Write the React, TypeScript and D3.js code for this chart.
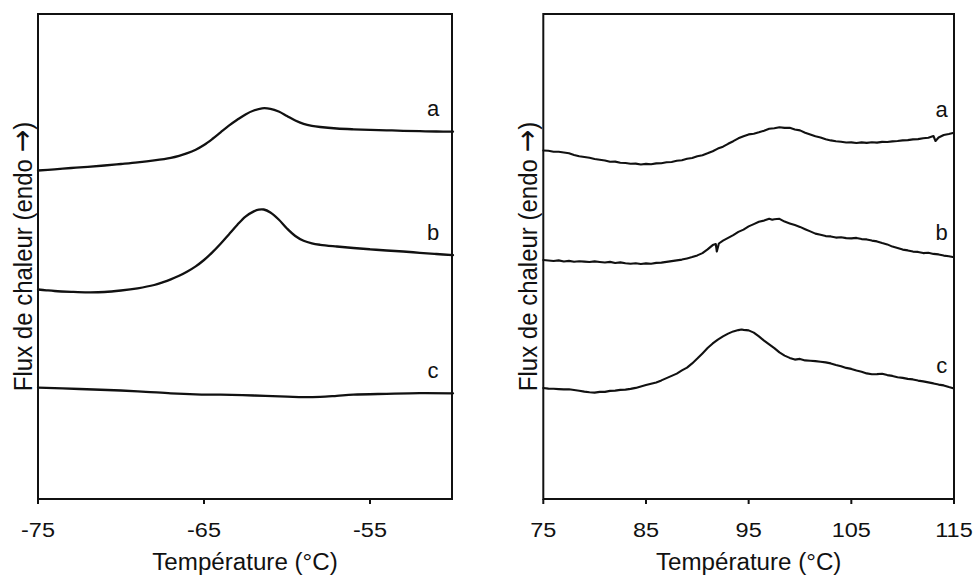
import React from "react";
import * as d3 from "d3";

// ---------- data (temperature °C, heat flow a.u.) ----------
const leftTicks = [-75, -65, -55];
const rightTicks = [75, 85, 95, 105, 115];
const seriesLabels = ["a", "b", "c"];
const xTitle = "Température (°C)";
const yTitleText = "Flux de chaleur (endo ";
const yTitleArrow = "\u2192";
const yTitleEnd = ")";

const leftA: [number, number][] = [
  [-75, 328.5], [-74, 329.7], [-73, 331], [-72, 332.2], [-71, 333.5], [-70, 335],
  [-69, 336.6], [-68, 338.6], [-67, 341.2], [-66.5, 343.2], [-66, 345.8], [-65.5, 349.3],
  [-65, 354], [-64.5, 360], [-64, 366.7], [-63.5, 373.3], [-63, 379.2], [-62.5, 384.6],
  [-62, 388.5], [-61.5, 390.7], [-61, 390.2], [-60.5, 387.5], [-60, 383], [-59.5, 378.5],
  [-59, 375.2], [-58.5, 373.2], [-58, 372], [-57, 370.5], [-56, 369.7], [-55, 369.2],
  [-54, 368.7], [-53, 368.2], [-52, 367.8], [-51, 367.5], [-50, 367.3],
];
const leftB: [number, number][] = [
  [-75, 209.5], [-74.5, 208.7], [-74, 208], [-73, 207.2], [-72, 206.7], [-71, 207],
  [-70, 208.5], [-69, 210.7], [-68, 214], [-67.5, 216.6], [-67, 219.6], [-66.5, 223.2],
  [-66, 227.5], [-65.5, 232.6], [-65, 239], [-64.5, 246.6], [-64, 255.2], [-63.5, 264.6],
  [-63, 274], [-62.5, 282.4], [-62, 287.6], [-61.7, 289.4], [-61.4, 289.5], [-61, 286.5],
  [-60.5, 279.5], [-60, 270.5], [-59.5, 263], [-59, 258.2], [-58.5, 255.6], [-58, 254.2],
  [-57, 252.5], [-56, 251], [-55, 249.7], [-54, 248.5], [-53, 247.5], [-52, 246.2],
  [-51, 245], [-50, 243.8],
];
const leftC: [number, number][] = [
  [-75, 111.3], [-72.5, 110], [-70, 108.5], [-68.5, 107.2], [-67, 105.7], [-65.5, 104.7],
  [-64, 104.3], [-62, 103.5], [-60, 102.4], [-59, 101.9], [-58, 102.2], [-57, 103.2],
  [-56, 104.3], [-54, 105.2], [-52, 105.9], [-50, 105.7],
];

const rightA: [number, number][] = [
  [75, 348.5], [75.5, 348.2], [76, 347.3], [76.5, 347.2], [77, 346.5], [77.5, 345.7],
  [78, 344], [78.5, 342.8], [79, 342], [79.5, 341.3], [80, 340], [80.5, 339.2],
  [81, 338.5], [81.5, 337.3], [82, 337.4], [82.5, 336.3], [83, 336], [83.5, 335.3],
  [84, 335.4], [84.5, 334.5], [85, 335.1], [85.5, 334.7], [86, 335.6], [86.5, 335.8],
  [87, 336.7], [87.5, 337], [88, 338.2], [88.5, 338.8], [89, 340.2], [89.5, 341],
  [90, 342.7], [90.5, 343.8], [91, 345.7], [91.5, 347.8], [92, 350.4], [92.5, 352.3],
  [93, 355.2], [93.5, 357.8], [94, 360.7], [94.5, 362.8], [95, 364.6], [95.5, 365.3],
  [96, 366.7], [96.5, 368.3], [97, 370.2], [97.5, 370.8], [98, 371.8], [98.5, 371.1],
  [99, 371.2], [99.5, 369.5], [100, 368.6], [100.5, 366.3], [101, 364.6], [101.5, 362.8],
  [102, 361.6], [102.5, 359.8], [103, 358.6], [103.5, 357.8], [104, 357.3], [104.5, 356.5],
  [105, 356.6], [105.5, 356], [106, 356.6], [106.5, 356.1], [107, 356.8], [107.5, 356.4],
  [108, 357.1], [108.5, 357], [109, 357.6], [109.5, 358], [110, 358.6], [110.5, 358.9],
  [111, 359.6], [111.5, 359.9], [112, 360.8], [112.5, 361.3], [113, 363], [113.2, 358],
  [113.5, 361.5], [114, 364], [114.5, 365], [115, 366.3],
];
const rightB: [number, number][] = [
  [75, 239], [75.5, 238.5], [76, 238], [76.5, 238.6], [77, 237.5], [77.5, 238.1],
  [78, 237.2], [78.5, 237.8], [79, 237.4], [79.5, 237], [80, 237.6], [80.5, 237],
  [81, 236.5], [81.5, 237.1], [82, 236], [82.5, 236.6], [83, 235.7], [83.5, 235.2],
  [84, 235.8], [84.5, 235], [85, 235.6], [85.5, 235.2], [86, 236.1], [86.5, 236.4],
  [87, 237.1], [87.5, 237.9], [88, 238.6], [88.5, 239.4], [89, 240.6], [89.5, 241.9],
  [90, 243.6], [90.5, 245.9], [91, 249.6], [91.5, 253.9], [91.8, 255], [91.9, 247.5],
  [92.1, 255.5], [92.5, 258.4], [93, 261.1], [93.5, 263.9], [94, 267.1], [94.5, 269.4],
  [95, 272.6], [95.5, 274.9], [96, 277.3], [96.5, 278.4], [97, 280.3], [97.3, 279.2],
  [97.5, 279.8], [98, 280.2], [98.5, 277.4], [99, 275.6], [99.5, 273.9], [100, 272.1],
  [100.5, 269.8], [101, 267.6], [101.5, 265.4], [102, 264.3], [102.5, 262.9], [103, 262.6],
  [103.5, 261.4], [104, 261.8], [104.5, 260.9], [105, 260.6], [105.5, 261.1], [106, 259.9],
  [106.5, 259.6], [107, 258.4], [107.5, 257.6], [108, 255.9], [108.5, 254.6], [109, 252.4],
  [109.5, 251.1], [110, 249.4], [110.5, 248.6], [111, 247.4], [111.5, 247.1], [112, 245.9],
  [112.5, 246.3], [113, 245.1], [113.5, 244.6], [114, 243.4], [114.5, 242.8], [115, 241.7],
];
const rightC: [number, number][] = [
  [75, 111], [75.5, 110.4], [76, 110.3], [76.5, 109.9], [77, 109.6], [77.5, 109.7],
  [78, 109], [78.5, 108.3], [79, 107.4], [79.5, 106.8], [80, 106.4], [80.5, 107.1],
  [81, 107.1], [81.5, 108.1], [82, 108.4], [82.5, 109.1], [83, 109.4], [83.5, 110.1],
  [84, 111.1], [84.5, 112.6], [85, 113.9], [85.5, 115.3], [86, 116.6], [86.5, 118.6],
  [87, 120.9], [87.5, 123.1], [88, 125.4], [88.5, 128.6], [89, 131.4], [89.5, 135.6],
  [90, 140.4], [90.5, 145.6], [91, 150.9], [91.5, 155.6], [92, 159.4], [92.5, 162.6],
  [93, 165.4], [93.5, 167.6], [94, 168.9], [94.3, 169.5], [94.5, 169.1], [95, 168.6],
  [95.5, 166.4], [96, 162.6], [96.5, 158.4], [97, 154.6], [97.5, 150.9], [98, 146.6],
  [98.5, 143.4], [99, 141.1], [99.5, 139.4], [100, 140.1], [100.5, 138.6], [101, 138.3],
  [101.5, 137.9], [102, 137.3], [102.5, 136.6], [103, 135.6], [103.5, 134.1], [104, 132.8],
  [104.5, 131.1], [105, 130.1], [105.5, 128.6], [106, 127.3], [106.5, 125.6], [107, 124.8],
  [107.5, 124.9], [108, 125.3], [108.5, 123.9], [109, 123.1], [109.5, 121.7], [110, 121.1],
  [110.5, 120.1], [111, 119.6], [111.5, 118.4], [112, 117.6], [112.5, 116.6], [113, 115.6],
  [113.5, 114.4], [114, 113.6], [114.5, 111.9], [115, 110.5],
];

// label anchor values (temperature, heat flow) for series letters
const leftLabelPos: [number, number][] = [[-51.2, 383], [-51.2, 259], [-51.2, 121]];
const rightLabelPos: [number, number][] = [[113.8, 382], [113.8, 259], [113.8, 126]];

const FONT = "'Liberation Sans', Arial, Helvetica, sans-serif";
const TOP = 14;
const BOTTOM = 499;

type PanelProps = {
  x0: number;
  x1: number;
  domain: [number, number];
  ticks: number[];
  series: [number, number][][];
  smooth: boolean;
  labelPos: [number, number][];
};

function Panel({ x0, x1, domain, ticks, series, smooth, labelPos }: PanelProps) {
  const x = d3.scaleLinear().domain(domain).range([x0, x1]);
  const y = d3.scaleLinear().domain([0, 485]).range([BOTTOM, TOP]);
  const line = d3
    .line<[number, number]>()
    .x((d) => x(d[0]))
    .y((d) => y(d[1]))
    .curve(smooth ? d3.curveCatmullRom.alpha(0.5) : d3.curveLinear);
  const cx = (x0 + x1) / 2;
  const cy = (TOP + BOTTOM) / 2;
  return (
    <g>
      {series.map((s, i) => (
        <path
          key={i}
          d={line(s) || ""}
          fill="none"
          stroke="#111"
          strokeWidth={smooth ? 2.3 : 2.1}
          strokeLinejoin="round"
          strokeLinecap="round"
        />
      ))}
      <rect
        x={x0}
        y={TOP}
        width={x1 - x0}
        height={BOTTOM - TOP}
        fill="none"
        stroke="#111"
        strokeWidth={2}
      />
      {ticks.map((t) => (
        <g key={t}>
          <line x1={x(t)} x2={x(t)} y1={BOTTOM} y2={BOTTOM + 5} stroke="#111" strokeWidth={2} />
          <g transform={`translate(${x(t)},537) scale(1.12,1)`}>
            <text textAnchor="middle" fontSize={21} fontFamily={FONT} fill="#111">
              {t}
            </text>
          </g>
        </g>
      ))}
      {labelPos.map((p, i) => (
        <text
          key={i}
          x={x(p[0])}
          y={y(p[1])}
          textAnchor="middle"
          fontSize={22}
          fontFamily={FONT}
          fill="#111"
        >
          {seriesLabels[i]}
        </text>
      ))}
      <g transform={`translate(${cx},570) scale(1.05,1)`}>
        <text textAnchor="middle" fontSize={23} fontFamily={FONT} fill="#111">
          {xTitle}
        </text>
      </g>
      <g transform={`translate(${x0 - 6},${cy}) scale(1.1,1) rotate(-90)`}>
        <text textAnchor="middle" fontSize={24} fontFamily={FONT} fill="#111">
          {yTitleText}
          <tspan fontFamily="'DejaVu Sans', sans-serif" fontSize={27} fill="#111">
            {yTitleArrow}
          </tspan>
          {yTitleEnd}
        </text>
      </g>
    </g>
  );
}

export default function App() {
  return (
    <svg
      width={977}
      height={575}
      style={{ position: "absolute", left: 0, top: 0, background: "#fff" }}
    >
      <rect width={977} height={575} fill="#fff" />
      <Panel
        x0={38}
        x1={452}
        domain={[-75, -50.06]}
        ticks={leftTicks}
        series={[leftA, leftB, leftC]}
        smooth={true}
        labelPos={leftLabelPos}
      />
      <Panel
        x0={543.3}
        x1={954}
        domain={[75, 115]}
        ticks={rightTicks}
        series={[rightA, rightB, rightC]}
        smooth={false}
        labelPos={rightLabelPos}
      />
    </svg>
  );
}
